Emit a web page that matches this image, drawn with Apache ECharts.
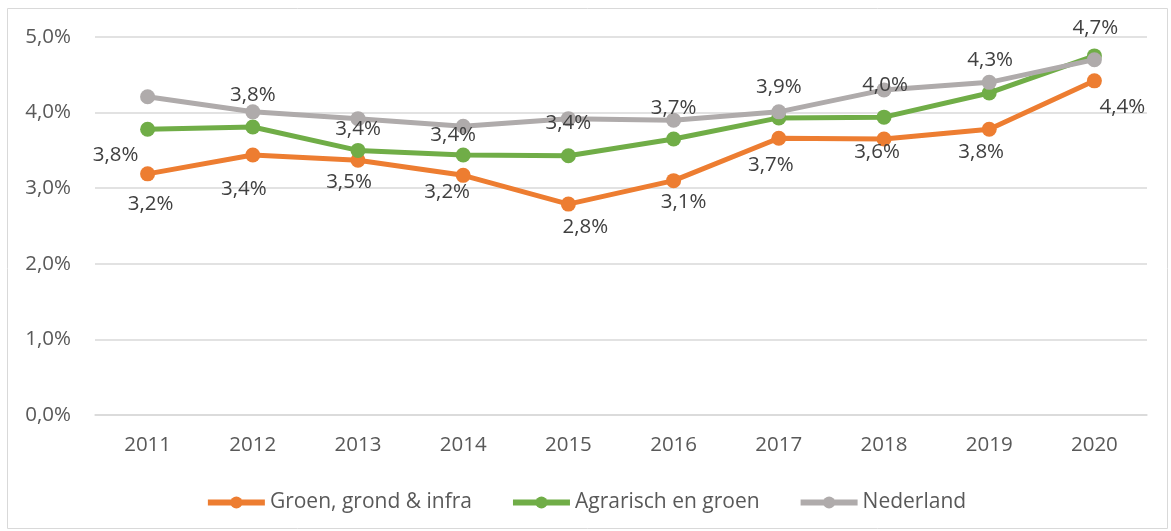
<!DOCTYPE html>
<html>
<head>
<meta charset="utf-8">
<script src="https://cdn.jsdelivr.net/npm/echarts@6/dist/echarts.min.js"></script>
<style>
html, body { margin: 0; padding: 0; background: #fff; }
#chart { width: 1171px; height: 531px; }
</style>
</head>
<body>
<div id="chart"></div>
<script>
// jaren
var years = ['2011', '2012', '2013', '2014', '2015', '2016', '2017', '2018', '2019', '2020'];

// waarden in procenten
var groenGrondInfra = [3.19, 3.44, 3.37, 3.17, 2.79, 3.10, 3.66, 3.65, 3.78, 4.42];
var agrarischGroen = [3.78, 3.81, 3.50, 3.44, 3.43, 3.65, 3.93, 3.94, 4.26, 4.75];
var nederland = [4.21, 4.01, 3.92, 3.82, 3.92, 3.90, 4.01, 4.30, 4.40, 4.70];

// labelteksten zoals in de grafiek
var groenGrondInfraLabels = ['3,2%', '3,4%', '3,5%', '3,2%', '2,8%', '3,1%', '3,7%', '3,6%', '3,8%', '4,4%'];
var agrarischGroenLabels = ['3,8%', '3,8%', '3,4%', '3,4%', '3,4%', '3,7%', '3,9%', '4,0%', '4,3%', '4,7%'];

// plaats van de labels t.o.v. het punt
var orangeOffsets = [[3, 30], [-9, 34], [-9, 22], [-16, 17], [17, 23], [10, 22], [-8, 27], [-7, 13], [-8, 23], [28, 26]];
var greenOffsets = [[-32, 26], [0, -32], [0, -21], [-10, -20], [0, -33], [0, -31], [0, -31], [1, -32], [1, -33], [1, -28]];

var FONT = '"Open Sans", sans-serif';

function withLabels(values, offsets) {
    return values.map(function (v, i) {
        return {value: v, label: {offset: offsets[i]}};
    });
}

function lineSeries(name, color, data, labels) {
    var s = {
        name: name,
        type: 'line',
        data: data,
        symbol: 'circle',
        symbolSize: 15,
        lineStyle: {color: color, width: 5},
        itemStyle: {color: color},
        emphasis: {disabled: true},
        label: {show: false}
    };
    if (labels) {
        s.label = {
            show: true,
            position: 'inside',
            formatter: function (p) { return labels[p.dataIndex]; },
            color: '#404040',
            fontFamily: FONT,
            fontSize: 20.5
        };
    }
    return s;
}

var chart = echarts.init(document.getElementById('chart'));
chart.setOption({
    animation: false,
    graphic: [{
        type: 'rect',
        shape: {x: 7.5, y: 8.5, width: 1160, height: 520},
        style: {fill: 'none', stroke: '#d9d9d9', lineWidth: 1},
        silent: true
    }],
    grid: {left: 95, right: 24, top: 37, bottom: 116},
    legend: {
        top: 487,
        left: 'center',
        itemWidth: 57,
        itemHeight: 15,
        itemGap: 38,
        lineStyle: {width: 6},
        textStyle: {color: '#595959', fontFamily: FONT, fontSize: 21},
        data: ['Groen, grond & infra', 'Agrarisch en groen', 'Nederland']
    },
    xAxis: {
        type: 'category',
        data: years,
        boundaryGap: true,
        axisTick: {show: false},
        axisLine: {show: true, lineStyle: {color: '#d9d9d9', width: 1.5}},
        axisLabel: {color: '#595959', fontFamily: FONT, fontSize: 20.5, margin: 20}
    },
    yAxis: {
        type: 'value',
        min: 0,
        max: 5,
        interval: 1,
        axisLine: {show: false},
        axisTick: {show: false},
        splitLine: {lineStyle: {color: '#d9d9d9', width: 1.5}},
        axisLabel: {
            color: '#595959', fontFamily: FONT, fontSize: 20.5, margin: 24,
            formatter: function (v) { return v.toFixed(1).replace('.', ',') + '%'; }
        }
    },
    series: [
        lineSeries('Groen, grond & infra', '#ED7D31', withLabels(groenGrondInfra, orangeOffsets), groenGrondInfraLabels),
        lineSeries('Agrarisch en groen', '#70AD47', withLabels(agrarischGroen, greenOffsets), agrarischGroenLabels),
        lineSeries('Nederland', '#AFABAB', nederland, null)
    ]
});
</script>
</body>
</html>
